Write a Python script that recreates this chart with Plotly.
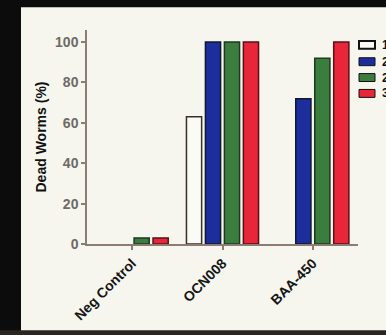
import plotly.graph_objects as go

categories = ["Neg Control", "OCN008", "BAA-450"]
series_names = ["1", "2", "2", "3"]
series_values = [
    [0, 63, 0],
    [0, 100, 72],
    [3, 100, 92],
    [3, 100, 100],
]
series_fill = ["#fbfbf6", "#1c2e9c", "#3b7d3e", "#e8263a"]
series_edge = ["#3a2e28", "#101830", "#1c3a1c", "#5a1018"]
y_ticks = [0, 20, 40, 60, 80, 100]

W, H = 386, 335
ml, mr, mt, mb = 87, 28, 30, 89
pw, ph = W - ml - mr, H - mt - mb

bg = "#f6f6ef"
axis_col = "#8b7d72"
FONT = "Liberation Sans, Arial"

fig = go.Figure()
for name, vals, fc, ec in zip(series_names, series_values, series_fill, series_edge):
    fig.add_trace(go.Bar(
        x=categories, y=vals, name=name,
        marker=dict(color=fc, line=dict(color=ec, width=[0 if v == 0 else 1.5 for v in vals])),
        showlegend=False,
    ))

def px_x(p):
    return (p - ml) / pw

def px_y(p):
    return (H - mb - p) / ph

shapes = [
    # dark frame of the photographed screen
    dict(type="rect", xref="paper", yref="paper", x0=px_x(-5), x1=px_x(21), y0=px_y(-5), y1=px_y(H + 5),
         fillcolor="#0c0c0c", line=dict(width=0), layer="above"),
    dict(type="rect", xref="paper", yref="paper", x0=px_x(-5), x1=px_x(W + 5), y0=px_y(7), y1=px_y(-5),
         fillcolor="#0c0c0c", line=dict(width=0), layer="above"),
    dict(type="rect", xref="paper", yref="paper", x0=px_x(-5), x1=px_x(W + 5), y0=px_y(H + 5), y1=px_y(333),
         fillcolor="#2a2520", line=dict(width=0), layer="above"),
]
annotations = []
# legend (manual, to match compact rounded swatches)
row_y = [45, 62, 78, 94]
for i, name in enumerate(series_names):
    yc = row_y[i]
    shapes.append(dict(type="rect", xref="paper", yref="paper",
                       x0=px_x(359), x1=px_x(375), y0=px_y(yc + 4), y1=px_y(yc - 4),
                       fillcolor=series_fill[i], line=dict(color="#111111", width=2 if i == 0 else 1)))
    annotations.append(dict(xref="paper", yref="paper", x=px_x(380), y=px_y(yc), text="<b>" + name + "</b>",
                            showarrow=False, xanchor="left", yanchor="middle",
                            font=dict(size=12, color="#111111", family=FONT)))

fig.update_layout(
    width=W, height=H,
    margin=dict(l=ml, r=mr, t=mt, b=mb, pad=0),
    paper_bgcolor=bg, plot_bgcolor=bg,
    barmode="group", bargap=0.16, bargroupgap=0.2,
    font=dict(family=FONT, color="#111111"),
    shapes=shapes, annotations=annotations,
    xaxis=dict(
        range=[-0.5, 2.5], showgrid=False, zeroline=False,
        showline=True, linecolor=axis_col, linewidth=1.5,
        ticks="outside", ticklen=4, tickcolor=axis_col, tickwidth=1.5,
        tickangle=-45, tickfont=dict(size=14, color="#151515", family=FONT),
        tickvals=categories, ticktext=["<b>" + c + "</b>" for c in categories],
    ),
    yaxis=dict(
        range=[0, 106], showgrid=False, zeroline=False,
        showline=True, linecolor=axis_col, linewidth=1.5,
        ticks="outside", ticklen=4, tickcolor=axis_col, tickwidth=1.5,
        tickvals=y_ticks, ticktext=["<b>%d</b>" % v for v in y_ticks],
        tickfont=dict(size=14, color="#6e6a66", family=FONT),
        title=dict(text="<b>Dead Worms (%)</b>", standoff=5,
                   font=dict(size=14, color="#111111", family=FONT)),
    ),
)

fig.write_html(
    "out.html",
    config={"displayModeBar": False},
    post_script="document.body.style.margin='0px';document.body.style.background='#0c0c0c';document.body.style.overflow='hidden';",
)
